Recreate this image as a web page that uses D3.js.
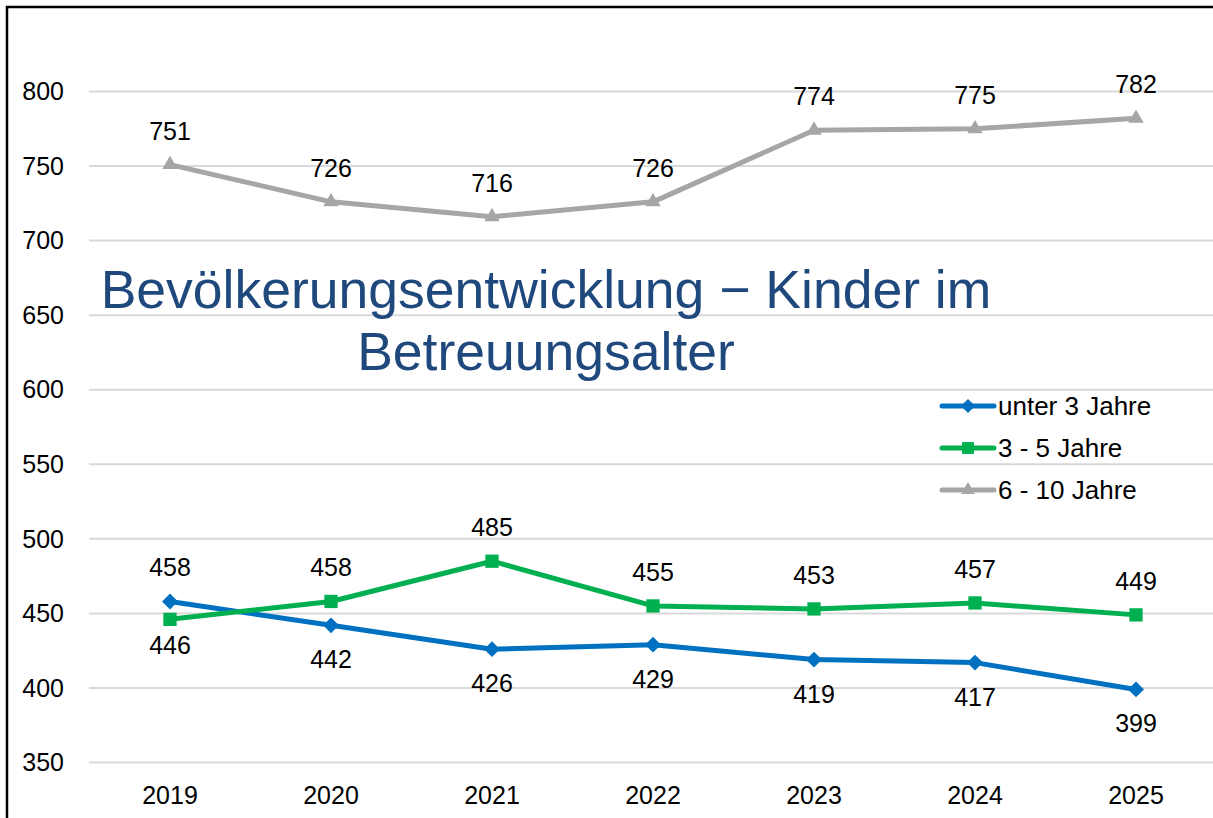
<!DOCTYPE html>
<html>
<head>
<meta charset="utf-8">
<script src="https://cdn.jsdelivr.net/npm/d3@7"></script>
<style>
  body { margin: 0; background: #fff; }
  svg { font-family: "Liberation Sans", Arial, sans-serif; }
</style>
</head>
<body>
<div id="chart"></div>
<script>
// data
var years = ["2019", "2020", "2021", "2022", "2023", "2024", "2025"]
var unter3 = [458, 442, 426, 429, 419, 417, 399]
var drei5 = [446, 458, 485, 455, 453, 457, 449]
var sechs10 = [751, 726, 716, 726, 774, 775, 782]
var yTicks = [350, 400, 450, 500, 550, 600, 650, 700, 750, 800]

var series = [
  { name: "unter 3 Jahre", values: unter3, color: "#0070C0", symbol: d3.symbolDiamond2, size: 160, belowGap: 43, below: [false, true, true, true, true, true, true] },
  { name: "3 - 5 Jahre", values: drei5, color: "#00B050", symbol: d3.symbolSquare2, size: 225, belowGap: 35, below: [true, false, false, false, false, false, false] },
  { name: "6 - 10 Jahre", values: sechs10, color: "#A6A6A6", symbol: d3.symbolTriangle2, size: 170, belowGap: 43, below: [false, false, false, false, false, false, false] }
]

var width = 1213
var height = 818

var svg = d3.select("#chart").append("svg")
  .attr("width", width)
  .attr("height", height)

var x = d3.scaleBand()
  .domain(years)
  .range([89.5, 1216.5])

var y = d3.scaleLinear()
  .domain([350, 800])
  .range([762.5, 91.5])

// gridlines
svg.append("g")
  .selectAll("line")
  .data(yTicks)
  .enter().append("line")
  .attr("x1", 89).attr("x2", 1217)
  .attr("y1", function(d) { return y(d) })
  .attr("y2", function(d) { return y(d) })
  .attr("stroke", "#d9d9d9")
  .attr("stroke-width", 2)

// y axis labels
svg.append("g")
  .selectAll("text")
  .data(yTicks)
  .enter().append("text")
  .attr("x", 64)
  .attr("y", function(d) { return y(d) })
  .attr("dy", "0.35em")
  .attr("text-anchor", "end")
  .attr("font-size", 25)
  .attr("fill", "#000")
  .text(function(d) { return d })

// x axis labels
svg.append("g")
  .selectAll("text")
  .data(years)
  .enter().append("text")
  .attr("x", function(d) { return x(d) + x.bandwidth() / 2 })
  .attr("y", 804)
  .attr("text-anchor", "middle")
  .attr("font-size", 25)
  .attr("fill", "#000")
  .text(function(d) { return d })

var line = d3.line()
  .x(function(d, i) { return x(years[i]) + x.bandwidth() / 2 })
  .y(function(d) { return y(d) })

series.forEach(function(s) {
  svg.append("path")
    .attr("d", line(s.values))
    .attr("fill", "none")
    .attr("stroke", s.color)
    .attr("stroke-width", 5)
    .attr("stroke-linejoin", "round")

  svg.append("g")
    .selectAll("path")
    .data(s.values)
    .enter().append("path")
    .attr("d", d3.symbol().type(s.symbol).size(s.size))
    .attr("transform", function(d, i) {
      return "translate(" + (x(years[i]) + x.bandwidth() / 2) + "," + y(d) + ")"
    })
    .attr("fill", s.color)
    .attr("stroke", "none")

  svg.append("g")
    .selectAll("text")
    .data(s.values)
    .enter().append("text")
    .attr("x", function(d, i) { return x(years[i]) + x.bandwidth() / 2 })
    .attr("y", function(d, i) { return y(d) + (s.below[i] ? s.belowGap : -25) })
    .attr("text-anchor", "middle")
    .attr("font-size", 25)
    .attr("fill", "#000")
    .text(function(d) { return d })
})

// title
var title = svg.append("text")
  .attr("text-anchor", "middle")
  .attr("font-size", 53.5)
  .attr("fill", "#1F497D")
title.append("tspan").attr("x", 546).attr("y", 308).text("Bevölkerungsentwicklung − Kinder im")
title.append("tspan").attr("x", 546).attr("y", 370).text("Betreuungsalter")

// legend
var legend = svg.append("g")
  .selectAll("g")
  .data(series)
  .enter().append("g")
  .attr("transform", function(d, i) { return "translate(940," + (406 + i * 42) + ")" })

legend.append("line")
  .attr("x1", 2).attr("x2", 54)
  .attr("stroke", function(d) { return d.color })
  .attr("stroke-width", 5)
  .attr("stroke-linecap", "round")

legend.append("path")
  .attr("d", function(d) { return d3.symbol().type(d.symbol).size(d.size * 0.8)() })
  .attr("transform", "translate(28,0)")
  .attr("fill", function(d) { return d.color })

legend.append("text")
  .attr("x", 58)
  .attr("dy", "0.35em")
  .attr("font-size", 26)
  .attr("fill", "#000")
  .text(function(d) { return d.name })

// frame (left and top edges visible)
svg.append("line").attr("x1", 7).attr("x2", 7).attr("y1", 6).attr("y2", height).attr("stroke", "#000").attr("stroke-width", 2.5)
svg.append("line").attr("x1", 6).attr("x2", width).attr("y1", 7).attr("y2", 7).attr("stroke", "#000").attr("stroke-width", 2.5)
</script>
</body>
</html>
